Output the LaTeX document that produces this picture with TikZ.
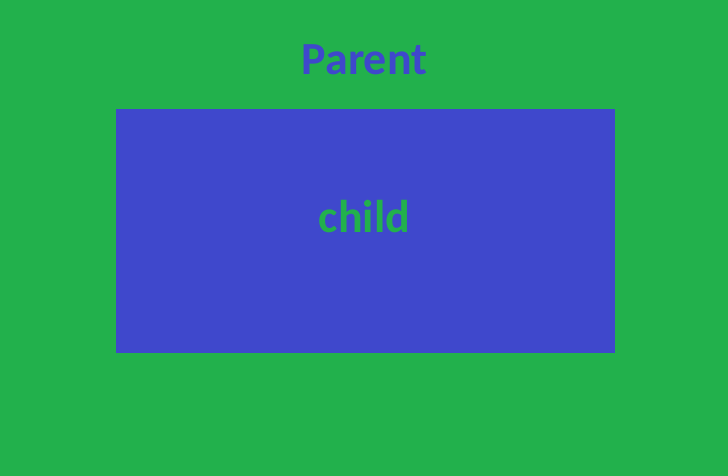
\documentclass[tikz,border=0pt]{standalone}
\usepackage{fontspec}
\setmainfont{Carlito}
\definecolor{paintgreen}{RGB}{34,177,76}
\definecolor{paintblue}{RGB}{63,72,204}
\tikzset{
  boxlabel/.style={anchor=base, inner sep=0pt, font=\fontsize{46}{55}\selectfont\bfseries}
}
\begin{document}
\begin{tikzpicture}[x=1pt, y=-1pt, line join=round]
		% Parent area (background)
		\fill[paintgreen] (0, 0) rectangle (728, 476);
		\useasboundingbox (0, 0) rectangle (728, 476);
		% Child box
		\fill[paintblue] (116, 109) rectangle (615, 353);
		% Labels
		\node[boxlabel, text=paintblue] (parent) at (364.5, 75) {Parent};
		\node[boxlabel, text=paintgreen] (child) at (364.5, 232) {child};
	\end{tikzpicture}
\end{document}
